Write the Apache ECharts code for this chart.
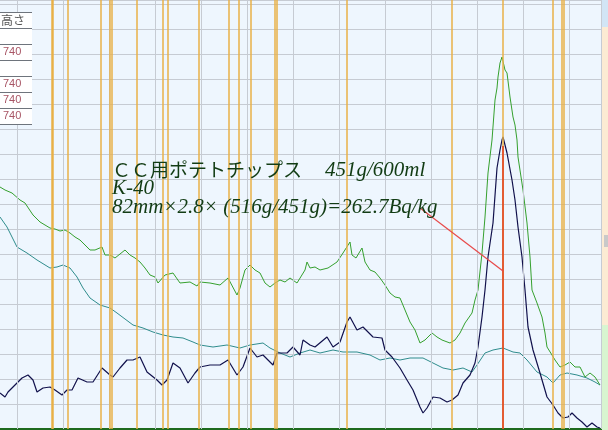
<!DOCTYPE html>
<html><head><meta charset="utf-8">
<script src="https://cdn.jsdelivr.net/npm/echarts@6/dist/echarts.min.js"></script>
<style>html,body{margin:0;padding:0;background:#EEF6FE;overflow:hidden}#c{width:608px;height:430px}</style>
</head><body><div id="c"></div>
<script>
// spectrum counts (channel, counts)
const greenCounts = [[0,242],[5,239],[12,236],[20,229],[25,226],[33,214],[40,207],[45,204],[50,201],[55,200],[60,198],[65,199],[70,196],[75,192],[80,189],[85,184],[90,179],[95,179],[102,182],[105,174],[110,174],[115,171],[125,179],[130,174],[135,171],[140,167],[145,161],[150,154],[155,152],[158,146],[165,154],[173,156],[180,146],[190,147],[197,143],[200,147],[210,146],[220,144],[228,151],[237,134],[240,141],[245,159],[250,164],[255,159],[260,156],[265,146],[270,142],[275,146],[280,149],[285,147],[290,151],[297,146],[305,159],[307,167],[310,161],[315,162],[320,159],[328,161],[337,167],[343,176],[350,187],[352,174],[356,171],[362,181],[365,167],[370,159],[375,157],[380,151],[385,144],[390,136],[395,132],[400,131],[405,119],[410,107],[415,99],[420,86],[425,89],[432,96],[437,92],[442,89],[450,86],[455,89],[460,96],[465,106],[472,116],[475,129],[478,139],[482,176],[485,212],[488,256],[492,289],[495,329],[497,341],[498,352],[500,366],[502,372],[505,359],[507,356],[510,332],[513,312],[515,304],[517,289],[518,272],[523,239],[527,206],[530,172],[532,139],[537,126],[542,112],[545,96],[547,82],[552,74],[555,69],[560,62],[565,64],[570,67],[575,62],[580,62],[585,52],[590,56],[595,52],[600,44]];
const tealCounts = [[0,212],[7,202],[17,182],[27,176],[37,169],[50,161],[57,162],[63,164],[70,161],[77,152],[83,141],[90,131],[100,124],[110,121],[117,116],[133,104],[143,101],[153,97],[163,94],[173,92],[183,91],[193,87],[200,84],[213,82],[227,84],[240,81],[250,84],[263,86],[270,81],[280,76],[290,72],[300,76],[310,79],[320,76],[333,79],[343,77],[357,77],[370,74],[380,69],[390,71],[400,69],[410,71],[423,71],[433,66],[443,61],[453,59],[463,61],[472,57],[477,64],[485,76],[493,79],[503,81],[513,77],[520,76],[527,69],[537,57],[547,52],[553,46],[560,54],[567,56],[577,54],[587,51],[595,47],[600,44]];
const navyCounts = [[0,36],[5,32],[8,37],[15,44],[22,51],[28,54],[33,49],[37,37],[43,41],[50,42],[55,39],[62,34],[67,39],[72,39],[78,51],[87,47],[93,47],[102,61],[110,54],[113,52],[120,61],[127,69],[133,69],[140,72],[147,57],[157,49],[162,44],[167,49],[173,66],[180,61],[188,46],[195,56],[200,62],[210,64],[220,64],[228,69],[237,54],[243,62],[250,81],[257,72],[263,74],[273,64],[277,76],[287,76],[293,82],[300,74],[303,89],[310,84],[315,82],[327,92],[333,82],[340,87],[347,107],[350,112],[357,99],[363,102],[373,92],[382,91],[385,79],[392,72],[400,61],[407,49],[413,39],[420,22],[423,16],[427,21],[433,32],[440,31],[447,27],[452,29],[458,34],[463,46],[470,54],[475,66],[478,82],[482,112],[485,139],[488,172],[493,206],[497,261],[500,279],[502,289],[503,292],[507,276],[512,249],[515,229],[518,202],[522,172],[525,139],[528,102],[533,79],[540,56],[547,32],[553,24],[558,16],[563,11],[568,12],[572,16],[577,11],[582,7],[587,2],[592,6],[597,2],[600,1]];
const gridChannels = [17,63,109,155,201,247,293,339,385,431,477,523,569,601];
const roiChannels = [68,101,110,112,137,163,168,199,229,239,251,275,277,347,452,503,553,562,564];
const roiWideChannels = [52];
const peakChannel = 503;
const peakTopCount = 283;
const leaderFrom = [420,221];
const leaderTo = [503,158];
const tableLabels = ['高さ','','740','','740','740','740'];
const noteTitleJa = 'ＣＣ用ポテトチップス';
const noteTitleVol = '451g/600ml';
const noteLine2 = 'K-40';
const noteLine3 = '82mm×2.8× (516g/451g)=262.7Bq/kg';

const chart = echarts.init(document.getElementById('c'), null, {renderer:'canvas'});
const noLabel = {show:false};
function vlines(arr, color, width){
  return arr.map(v => ({xAxis:v, lineStyle:{color:color,width:width,type:'solid'}}));
}
const graphics = [];
// right strip
graphics.push({type:'rect',left:602,top:0,shape:{width:6,height:27},style:{fill:'#D2E5F5'},z:10});
graphics.push({type:'rect',left:602,top:27,shape:{width:6,height:298},style:{fill:'#FCEBD3'},z:10});
graphics.push({type:'rect',left:602,top:325,shape:{width:6,height:105},style:{fill:'#D8F5D0'},z:10});
graphics.push({type:'rect',left:604,top:235,shape:{width:4,height:12},style:{fill:'#C9C9C9'},z:11});
// left table
graphics.push({type:'rect',left:0,top:12,shape:{width:32,height:112},style:{fill:'#FFFFFF'},z:10});
for(let i=0;i<=tableLabels.length;i++){
  const y = 12.5 + i*16;
  graphics.push({type:'line',shape:{x1:0,y1:y,x2:32,y2:y},style:{stroke:'#6E747C',lineWidth:1},z:11});
}
tableLabels.forEach((t,i)=>{
  if(!t) return;
  graphics.push({type:'text',left: i===0?1:3,top:12+i*16+2,style:{text:t,fill: i===0?'#555555':'#A85565',font: i===0?'12px "Noto Sans CJK JP"':'11px "Liberation Sans"'},z:12});
});
// annotation text
const noteColor = '#123C14';
graphics.push({type:'text',left:112,top:160,style:{text:noteTitleJa,fill:noteColor,font:'19px "Noto Sans CJK JP"'},z:20});
graphics.push({type:'text',left:325,top:160,style:{text:noteTitleVol,fill:noteColor,font:'italic 21px "Liberation Serif"'},z:20});
graphics.push({type:'text',left:112,top:178,style:{text:noteLine2,fill:noteColor,font:'italic 21px "Liberation Serif"'},z:20});
graphics.push({type:'text',left:112,top:197,style:{text:noteLine3,fill:noteColor,font:'italic 21px "Liberation Serif", "Noto Sans CJK JP"'},z:20});

const option = {
  backgroundColor:'#EEF6FE',
  animation:false,
  grid:{left:0,right:6,top:0,bottom:1},
  xAxis:{type:'value',min:0,max:602,
    axisLine:{show:true,onZero:false,lineStyle:{color:'#1E6A1E',width:2}},
    axisTick:{show:false},axisLabel:{show:false},splitLine:{show:false}},
  yAxis:{type:'value',min:0,max:429,interval:25,
    axisLine:{show:false},axisTick:{show:false},axisLabel:{show:false},
    splitLine:{show:true,lineStyle:{color:'#C6CBD3',width:1}}},
  graphic:graphics,
  series:[
    {type:'line',data:[[0,-50]],symbol:'none',lineStyle:{width:0},z:1,silent:true,
     markLine:{silent:true,symbol:'none',label:noLabel,animation:false,
       data:vlines(gridChannels,'#C6CBD3',1)}},
    {type:'line',data:[[0,-50]],symbol:'none',lineStyle:{width:0},z:2,silent:true,
     markLine:{silent:true,symbol:'none',label:noLabel,animation:false,
       data:vlines(roiChannels,'#E8B047',1.5).concat(vlines(roiWideChannels,'#E8B047',2.5))}},
    {type:'line',data:tealCounts,showSymbol:false,symbol:'none',lineStyle:{color:'#2F8C8C',width:1},z:3},
    {type:'line',data:greenCounts,showSymbol:false,symbol:'none',lineStyle:{color:'#35A02E',width:1},z:3},
    {type:'line',data:navyCounts,showSymbol:false,symbol:'none',lineStyle:{color:'#11114C',width:1.2},z:4},
    {type:'line',data:[[0,-50]],symbol:'none',lineStyle:{width:0},z:5,silent:true,
     markLine:{silent:true,symbol:'none',label:noLabel,animation:false,
       data:[
         [{coord:[peakChannel,peakTopCount],lineStyle:{color:'#E03A1E',width:1.5,type:'solid'}},{coord:[peakChannel,0]}],
         [{coord:leaderFrom,lineStyle:{color:'#E84A4A',width:1.2,type:'solid'}},{coord:leaderTo}]
       ]}}
  ]
};
chart.setOption(option);
</script>
</body></html>
